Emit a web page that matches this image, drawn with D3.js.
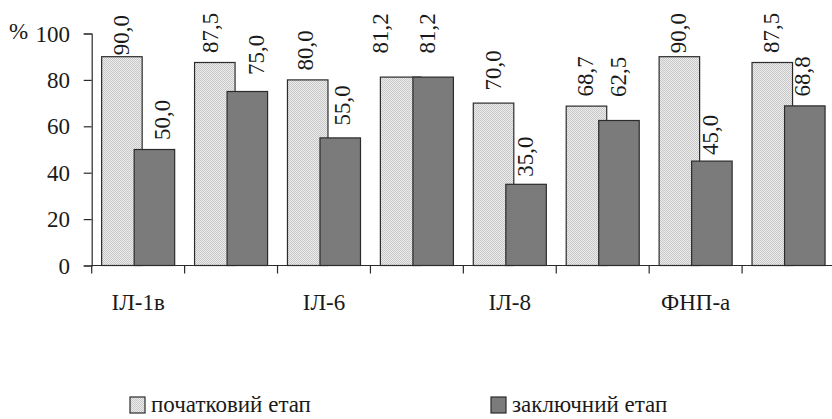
<!DOCTYPE html>
<html><head><meta charset="utf-8"><script src="https://cdn.jsdelivr.net/npm/d3@7"></script></head>
<body style="margin:0">
<svg id="s" width="832" height="419"></svg>
<script>
// Category labels along the x axis (every other one is left blank)
const categories = ["ІЛ-1в", "", "ІЛ-6", "", "ІЛ-8", "", "ФНП-а", ""];
// Share of cases, % — initial stage and final stage
const initialStage = [90.0, 87.5, 80.0, 81.2, 70.0, 68.7, 90.0, 87.5];
const finalStage   = [50.0, 75.0, 55.0, 81.2, 35.0, 62.5, 45.0, 68.8];
const seriesNames  = ["початковий етап", "заключний етап"];
const yTicks       = [0, 20, 40, 60, 80, 100];

// hand placement of the value labels: [dx, extra lift] in px
const initialLabelNudge = [[0, -8], [-4, 0], [-2, 0], [-20, 14], [0, 3], [-1, 0], [-1, -6], [-1, 0]];
const finalLabelNudge   = [[8, 0], [9, 7], [2, 3], [-6, 14], [-1, -2], [0, 14], [-1, -3.5], [-2, 0]];

const svg = d3.select("#s");
const FONT = 23;
const TEXT = "#1a1a1a";
const LINE = "#2b2b2b";

// dotted light fill for the first series
const defs = svg.append("defs");
const pat = defs.append("pattern")
  .attr("id", "dots").attr("patternUnits", "userSpaceOnUse")
  .attr("width", 2).attr("height", 2);
pat.append("rect").attr("width", 2).attr("height", 2).attr("fill", "#ececec");
pat.append("rect").attr("width", 1).attr("height", 1).attr("fill", "#c8c8c8");
pat.append("rect").attr("x", 1).attr("y", 1).attr("width", 1).attr("height", 1).attr("fill", "#c8c8c8");

const fills = ["url(#dots)", "#7b7b7b"];

const plot = { left: 91.7, right: 835, top: 33.5, bottom: 265.5 };

const x = d3.scaleBand()
  .domain(d3.range(categories.length))
  .range([plot.left, plot.right]);

const y = d3.scaleLinear().domain([0, 100]).range([plot.bottom, plot.top]);

// bar geometry inside one category band
const bw = x.bandwidth();
const barW = bw * 0.436;        // width of one bar
const step = bw * 0.35;         // shift of the second bar (bars overlap)
const inset = (bw - (step + barW)) / 2;

const series = [initialStage, finalStage];
const nudges = [initialLabelNudge, finalLabelNudge];
const fmt = v => d3.format(".1f")(v).replace(".", ",");

// bars
series.forEach((vals, s) => {
  svg.append("g").selectAll("rect")
    .data(vals)
    .join("rect")
    .attr("x", (d, i) => x(i) + inset + s * step)
    .attr("y", d => y(d))
    .attr("width", barW)
    .attr("height", d => y(0) - y(d))
    .attr("fill", fills[s])
    .attr("stroke", LINE)
    .attr("stroke-width", 1.2);
});

// text helper: serif face, shared size and colour
function addText(txt, xPos, yPos, anchor, transform) {
  const t = svg.append("text")
    .attr("x", xPos).attr("y", yPos)
    .attr("text-anchor", anchor)
    .attr("font-size", FONT)
    .attr("fill", TEXT)
    .style("font-family", '"Liberation Serif"')
    .text(txt);
  if (transform) t.attr("transform", transform);
  return t;
}

// value labels, rotated, above each bar
series.forEach((vals, s) => {
  vals.forEach((d, i) => {
    const [dx, lift] = nudges[s][i];
    const cx = x(i) + inset + s * step + barW / 2 + dx;
    const bottom = y(d) - 9.5 - lift;
    addText(fmt(d), 0, 0, "start", `translate(${cx + 7.5},${bottom}) rotate(-90)`);
  });
});

// y axis line and ticks from the axis generator, labels drawn beside
const yAxis = svg.append("g")
  .attr("transform", `translate(${plot.left},0)`)
  .call(d3.axisLeft(y).tickValues(yTicks).tickSize(8).tickFormat(""));
yAxis.select(".domain").attr("stroke", LINE).attr("stroke-width", 1.2);
yAxis.selectAll(".tick line").attr("stroke", LINE).attr("stroke-width", 1.2);
yTicks.forEach(t => addText(String(t), 70, y(t) + 8, "end"));
addText("%", 9, y(100) + 5, "start");

// x axis: ticks on category boundaries, labels at category centres
svg.append("line")
  .attr("x1", plot.left).attr("x2", plot.right)
  .attr("y1", plot.bottom).attr("y2", plot.bottom)
  .attr("stroke", LINE).attr("stroke-width", 1.2);
svg.append("g").selectAll("line")
  .data(d3.range(categories.length))
  .join("line")
  .attr("x1", i => x(i)).attr("x2", i => x(i))
  .attr("y1", plot.bottom).attr("y2", plot.bottom + 8)
  .attr("stroke", LINE).attr("stroke-width", 1.2);
categories.forEach((c, i) => {
  if (c) addText(c, x(i) + bw / 2, plot.bottom + 44, "middle");
});

// legend
const legendX = [130, 491];
seriesNames.forEach((name, s) => {
  svg.append("rect")
    .attr("x", legendX[s]).attr("y", 397)
    .attr("width", 15).attr("height", 16)
    .attr("fill", fills[s]).attr("stroke", LINE).attr("stroke-width", 1.2);
  addText(name, legendX[s] + 21, 412, "start");
});
</script>
</body></html>
